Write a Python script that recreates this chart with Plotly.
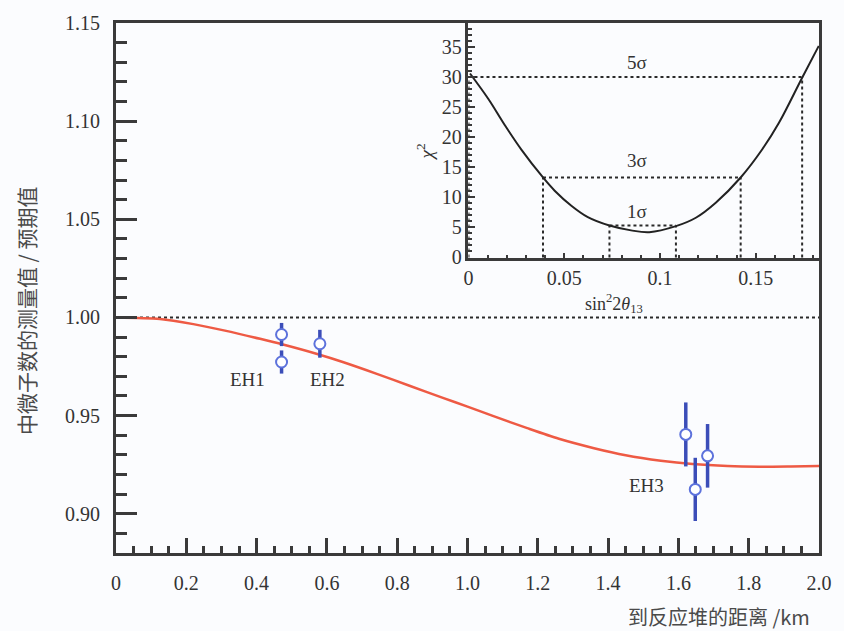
import numpy as np
import plotly.graph_objects as go

# ---------------- data ----------------
# main panel: expected survival curve
curve_L = [0.0, 0.125, 0.22, 0.31, 0.41, 0.475, 0.57, 0.645, 0.74, 0.835, 0.93, 1.0,
           1.07, 1.17, 1.26, 1.36, 1.45, 1.55, 1.64, 1.74, 1.83, 1.92, 2.0]
curve_R = [1.000, 0.9992, 0.9966, 0.9933, 0.9891, 0.9862, 0.9815, 0.9773, 0.9714,
           0.9652, 0.9590, 0.9546, 0.9500, 0.9436, 0.9382, 0.9334, 0.9298, 0.9270,
           0.9253, 0.9243, 0.9240, 0.9241, 0.9243]
reference_level = 1.0

# detector measurements
det_L = [0.471, 0.471, 0.580, 1.621, 1.648, 1.683]
det_R = [0.9913, 0.9773, 0.9866, 0.9404, 0.9124, 0.9295]
det_err = [0.0059, 0.0059, 0.0071, 0.0163, 0.0161, 0.0162]
hall_labels = ["EH1", "EH2", "EH3"]

# inset: chi2 vs sin^2 2theta13
chi_x = [0.0008, 0.0103, 0.019, 0.0277, 0.0389, 0.045, 0.0537, 0.0623, 0.0736, 0.0849,
         0.0944, 0.1083, 0.1187, 0.1291, 0.1421, 0.1534, 0.1621, 0.1742, 0.1829]
chi_y = [30.6, 26.4, 22.0, 17.9, 13.3, 11.1, 8.6, 6.7, 5.3, 4.5,
         4.2, 5.2, 6.6, 9.1, 13.3, 18.0, 22.4, 29.9, 35.2]
sigma_names = ["1σ", "3σ", "5σ"]
sigma_level = [5.3, 13.3, 30.0]
sigma_left = [0.0736, 0.0389, 0.0]
sigma_right = [0.1083, 0.1421, 0.1742]

x_tickvals = [0, 0.2, 0.4, 0.6, 0.8, 1.0, 1.2, 1.4, 1.6, 1.8, 2.0]
x_ticktext = ["0", "0.2", "0.4", "0.6", "0.8", "1.0", "1.2", "1.4", "1.6", "1.8", "2.0"]
x2_tickvals = [0, 0.05, 0.1, 0.15]
x2_ticktext = ["0", "0.05", "0.1", "0.15"]

# ---------------- styles ----------------
SERIF = "Liberation Serif, Times New Roman, serif"
CJK = "Noto Sans CJK SC"
AX = "#3a3a3a"
TXT = "#333333"
CJK_TXT = "#4a4a4a"
BG = "#fbfcfe"

fig = go.Figure()

fig.add_trace(go.Scatter(x=curve_L, y=curve_R, mode="lines",
                         line=dict(color="#ee5a44", width=2.5, shape="spline", smoothing=0.8),
                         xaxis="x", yaxis="y", showlegend=False, hoverinfo="skip"))

fig.add_trace(go.Scatter(x=det_L, y=det_R, mode="markers",
                         error_y=dict(type="data", array=det_err, thickness=3.5, width=0,
                                      color="#3b4db8"),
                         marker=dict(symbol="circle", size=11, color="white",
                                     line=dict(color="#5d72dc", width=2)),
                         xaxis="x", yaxis="y", showlegend=False))

# sigma guide lines
sx, sy = [], []
for lv, lft, rgt in zip(sigma_level, sigma_left, sigma_right):
    sx += [lft, rgt, None, lft, lft, None, rgt, rgt, None]
    sy += [lv, lv, None, 0, lv, None, 0, lv, None]
fig.add_trace(go.Scatter(x=sx, y=sy, mode="lines",
                         line=dict(color="#2a2a2a", width=2, dash="dot"),
                         xaxis="x2", yaxis="y2", showlegend=False, hoverinfo="skip"))

fig.add_trace(go.Scatter(x=chi_x, y=chi_y, mode="lines",
                         line=dict(color="#222222", width=2, shape="spline", smoothing=1.0),
                         xaxis="x2", yaxis="y2", showlegend=False, hoverinfo="skip"))

fig.add_shape(type="line", xref="x domain", yref="y", x0=0, x1=1,
              y0=reference_level, y1=reference_level,
              line=dict(color="#2a2a2a", width=2, dash="dot"), layer="below")

annotations = []
# hall labels
for name, (ax_, ay_) in zip(hall_labels, [(0.375, 0.9683), (0.602, 0.9683), (1.509, 0.9144)]):
    annotations.append(dict(x=ax_, y=ay_, xref="x", yref="y", text=name, showarrow=False,
                            xanchor="center", yanchor="middle",
                            font=dict(family=SERIF, size=19, color=TXT)))
# sigma labels
for name, ly in zip(sigma_names, [7.7, 16.1, 32.5]):
    annotations.append(dict(x=0.0882, y=ly, xref="x2", yref="y2", text=name, showarrow=False,
                            xanchor="center", yanchor="middle",
                            font=dict(family=SERIF, size=19, color=TXT)))
# inset axis titles
annotations.append(dict(x=0.709, y=0.470, xref="paper", yref="paper",
                        xanchor="center", yanchor="middle",
                        text="sin<sup>2</sup>2<i>θ</i><sub>13</sub>", showarrow=False,
                        font=dict(family=SERIF, size=18, color=TXT)))
annotations.append(dict(x=0.439, y=0.757, xref="paper", yref="paper",
                        xanchor="center", yanchor="middle",
                        text="<i>χ</i><sup>2</sup>", textangle=-90, showarrow=False,
                        font=dict(family=SERIF, size=19, color=TXT)))
# main axis titles
annotations.append(dict(x=0.990, y=-0.119, xref="paper", yref="paper", xanchor="right",
                        yanchor="middle", text="到反应堆的距离 /km", showarrow=False,
                        font=dict(family=CJK, size=20, color=CJK_TXT)))
annotations.append(dict(x=-0.129, y=0.457, xref="paper", yref="paper",
                        xanchor="center", yanchor="middle",
                        text="中微子数的测量值 / 预期值", textangle=-90, showarrow=False,
                        font=dict(family=CJK, size=21, color=CJK_TXT)))

fig.update_layout(
    width=844, height=631,
    margin=dict(l=116, r=24, t=17, b=78),
    paper_bgcolor=BG, plot_bgcolor=BG,
    showlegend=False,
    annotations=annotations,
    xaxis=dict(domain=[0, 1], range=[0, 2], anchor="y",
               tickmode="array", tickvals=x_tickvals, ticktext=x_ticktext,
               ticks="inside", ticklen=15, tickwidth=3, tickcolor=AX,
               minor=dict(ticks="inside", tick0=0, dtick=0.05, ticklen=7, tickwidth=2.5,
                          tickcolor=AX, showgrid=False),
               showline=True, linewidth=3, linecolor=AX, mirror=True,
               showgrid=False, zeroline=False, ticklabelstandoff=10,
               tickfont=dict(family=SERIF, size=20, color=TXT)),
    yaxis=dict(domain=[0, 1], range=[0.88, 1.15], anchor="x",
               tick0=0.9, dtick=0.05, tickformat=".2f",
               ticks="inside", ticklen=21, tickwidth=3, tickcolor=AX,
               minor=dict(ticks="inside", tick0=0.88, dtick=0.01, ticklen=11, tickwidth=2.5,
                          tickcolor=AX, showgrid=False),
               showline=True, linewidth=3, linecolor=AX, mirror=True,
               showgrid=False, zeroline=False, ticklabelstandoff=9,
               tickfont=dict(family=SERIF, size=20, color=TXT)),
    xaxis2=dict(domain=[0.5014, 1.0], range=[0, 0.183], anchor="y2",
                tickmode="array", tickvals=x2_tickvals, ticktext=x2_ticktext,
                ticks="inside", ticklen=6, tickwidth=2, tickcolor=AX,
                minor=dict(ticks="inside", tick0=0, dtick=0.01, ticklen=4, tickwidth=2,
                           tickcolor=AX, showgrid=False),
                showline=True, linewidth=2.5, linecolor=AX,
                showgrid=False, zeroline=False, ticklabelstandoff=0,
                tickfont=dict(family=SERIF, size=20, color=TXT)),
    yaxis2=dict(domain=[0.556, 1.0], range=[-0.15, 39], anchor="x2",
                tick0=0, dtick=5,
                ticks="inside", ticklen=7, tickwidth=2, tickcolor=AX,
                minor=dict(ticks="inside", tick0=0, dtick=1, ticklen=4, tickwidth=1.5,
                           tickcolor=AX, showgrid=False),
                showline=True, linewidth=2.5, linecolor=AX,
                showgrid=False, zeroline=False, ticklabelstandoff=0,
                tickfont=dict(family=SERIF, size=20, color=TXT)),
)

fig.write_html("out.html",
               config={"displayModeBar": False},
               post_script="document.body.style.margin='0px';"
                           "document.body.style.overflow='hidden';")
